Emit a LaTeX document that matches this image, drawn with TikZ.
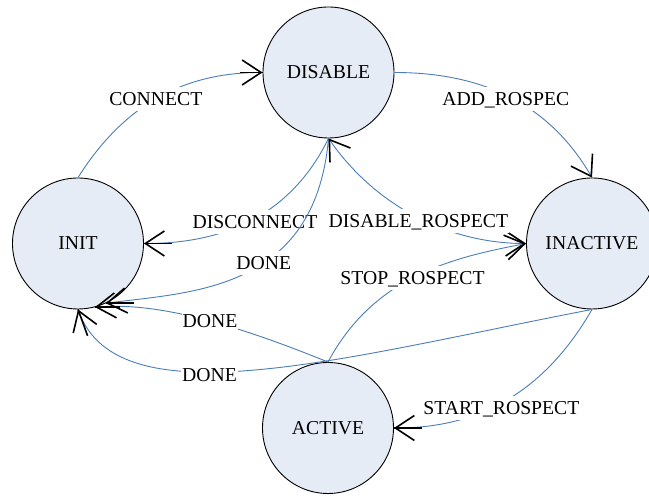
\documentclass[tikz,border=0pt]{standalone}
\usepackage{fontspec}
\setmainfont{Liberation Serif}
\usetikzlibrary{arrows.meta}
\definecolor{statefill}{RGB}{230,236,246}
\definecolor{edgeblue}{RGB}{74,126,187}
\begin{document}
\begin{tikzpicture}[x=1pt,y=1pt,
  every node/.style={font=\fontsize{19.7}{23.6}\selectfont},
  state/.style={circle,draw=black,line width=0.9pt,fill=statefill,minimum size=131pt,inner sep=0pt},
  stbarb/.tip={Straight Barb[color=black,length=19pt,width=25pt,line width=1.6pt]},
  edge/.style={draw=edgeblue,line width=0.9pt},
  arr/.style={edge,-{stbarb}},
  lbl/.style={fill=white,inner xsep=1pt,inner ysep=5.5pt,text height=13pt,text depth=0pt},
  shaft/.style={draw=black,line width=1.6pt}]
\useasboundingbox (0,0) rectangle (649,497);
\clip (0,0) rectangle (649,497);
\fill[white] (0,0) rectangle (649,497);

\node[state] (init) at (78,253.5) {INIT};
\node[state] (disable) at (328.5,424.5) {DISABLE};
\node[state] (inactive) at (592,253.5) {INACTIVE};
\node[state] (active) at (328,69) {ACTIVE};

\draw[arr] (init.north) .. controls (122,389) and (180,424.5) .. (disable.west) node[lbl,pos=0.5]{CONNECT};
\draw[arr] (disable.east) .. controls (480,424.5) and (548,395) .. (inactive.north) node[lbl,pos=0.5,xshift=-3pt,yshift=-2pt]{ADD\_ROSPEC};
\draw[arr] (disable.south) .. controls (290,280) and (222,253.5) .. (init.east) node[lbl,pos=0.49,xshift=2pt,yshift=-3pt]{DISCONNECT};
\draw[arr] (disable.south) .. controls (315,205) and (190,205) .. (init.-65) node[lbl,pos=0.42]{DONE};
\draw[edge,{stbarb}-{stbarb}] (disable.south) .. controls (380,285) and (456,253.5) .. (inactive.west) node[lbl,pos=0.5,xshift=-2pt,yshift=-2pt]{DISABLE\_ROSPECT};
\draw[arr] (active.north) .. controls (375,223) and (457,240) .. (inactive.west) node[lbl,pos=0.47]{STOP\_ROSPECT};
\draw[arr] (inactive.south) .. controls (537,92) and (463.5,69) .. (active.east) node[lbl,pos=0.5,xshift=3pt,yshift=-3pt]{START\_ROSPECT};
\draw[arr] (active.north) .. controls (254,165) and (165,196) .. (init.-75) node[lbl,pos=0.5]{DONE};
\draw[arr] (inactive.south) .. controls (345,140) and (119,75) .. (init.south) node[lbl,pos=0.6,xshift=4pt,yshift=-3pt]{DONE};

\draw[shaft] (disable.west) -- ++(-23,0);
\draw[shaft] (init.east) -- ++(28,0);
\draw[shaft] (active.east) -- ++(28,0);
\draw[shaft] (init.-65) -- ++(28,0);
\draw[shaft] (init.-75) -- ++(25,0);
\draw[shaft] (init.south) -- ++(-70:28);
\end{tikzpicture}
\end{document}
